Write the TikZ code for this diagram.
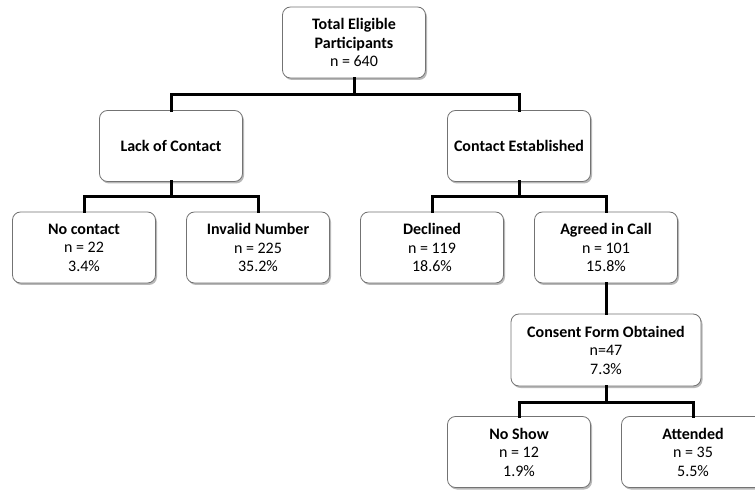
\documentclass[tikz,border=0pt]{standalone}
\usepackage{fontspec}
\setmainfont{Carlito}
\usetikzlibrary{shadows}
\begin{document}
\begin{tikzpicture}[x=1pt,y=-1pt,
  box/.style={draw=black!55, line width=0.8pt, rounded corners=8pt, fill=white,
    minimum width=143pt, minimum height=71pt, align=center,
    font=\fontsize{16}{18.5}\selectfont,
    drop shadow={shadow xshift=1.5pt, shadow yshift=-2pt, fill=black!35, opacity=0.8}},
  conn/.style={line width=3pt, line cap=rect}]
\useasboundingbox (0,0) rectangle (755,494);
\node[box] (top) at (354,42.5) {\textbf{Total Eligible}\\\textbf{Participants}\\n = 640};
\node[box] (lack) at (171,146) {\textbf{Lack of Contact}};
\node[box] (est) at (519,146) {\textbf{Contact Established}};
\node[box] (noc) at (84,247.5) {\textbf{No contact}\\n = 22\\3.4\%};
\node[box] (inv) at (258,247.5) {\textbf{Invalid Number}\\n = 225\\35.2\%};
\node[box] (dec) at (432,247.5) {\textbf{Declined}\\n = 119\\18.6\%};
\node[box] (agr) at (606,247.5) {\textbf{Agreed in Call}\\n = 101\\15.8\%};
\node[box, minimum width=190pt, minimum height=72pt] (con) at (606,350) {\textbf{Consent Form Obtained}\\n=47\\7.3\%};
\node[box] (nos) at (519,452) {\textbf{No Show}\\n = 12\\1.9\%};
\node[box] (att) at (693,452) {\textbf{Attended}\\n = 35\\5.5\%};
\draw[conn] (top.south) -- ++(0,16.5) coordinate (j1) -| (lack.north);
\draw[conn] (j1) -| (est.north);
\draw[conn] (lack.south) -- ++(0,15) coordinate (j2) -| (noc.north);
\draw[conn] (j2) -| (inv.north);
\draw[conn] (est.south) -- ++(0,15) coordinate (j3) -| (dec.north);
\draw[conn] (j3) -| (agr.north);
\draw[conn] (agr.south) -- (con.north);
\draw[conn] (con.south) -- ++(0,16) coordinate (j4) -| (nos.north);
\draw[conn] (j4) -| (att.north);
\end{tikzpicture}
\end{document}
